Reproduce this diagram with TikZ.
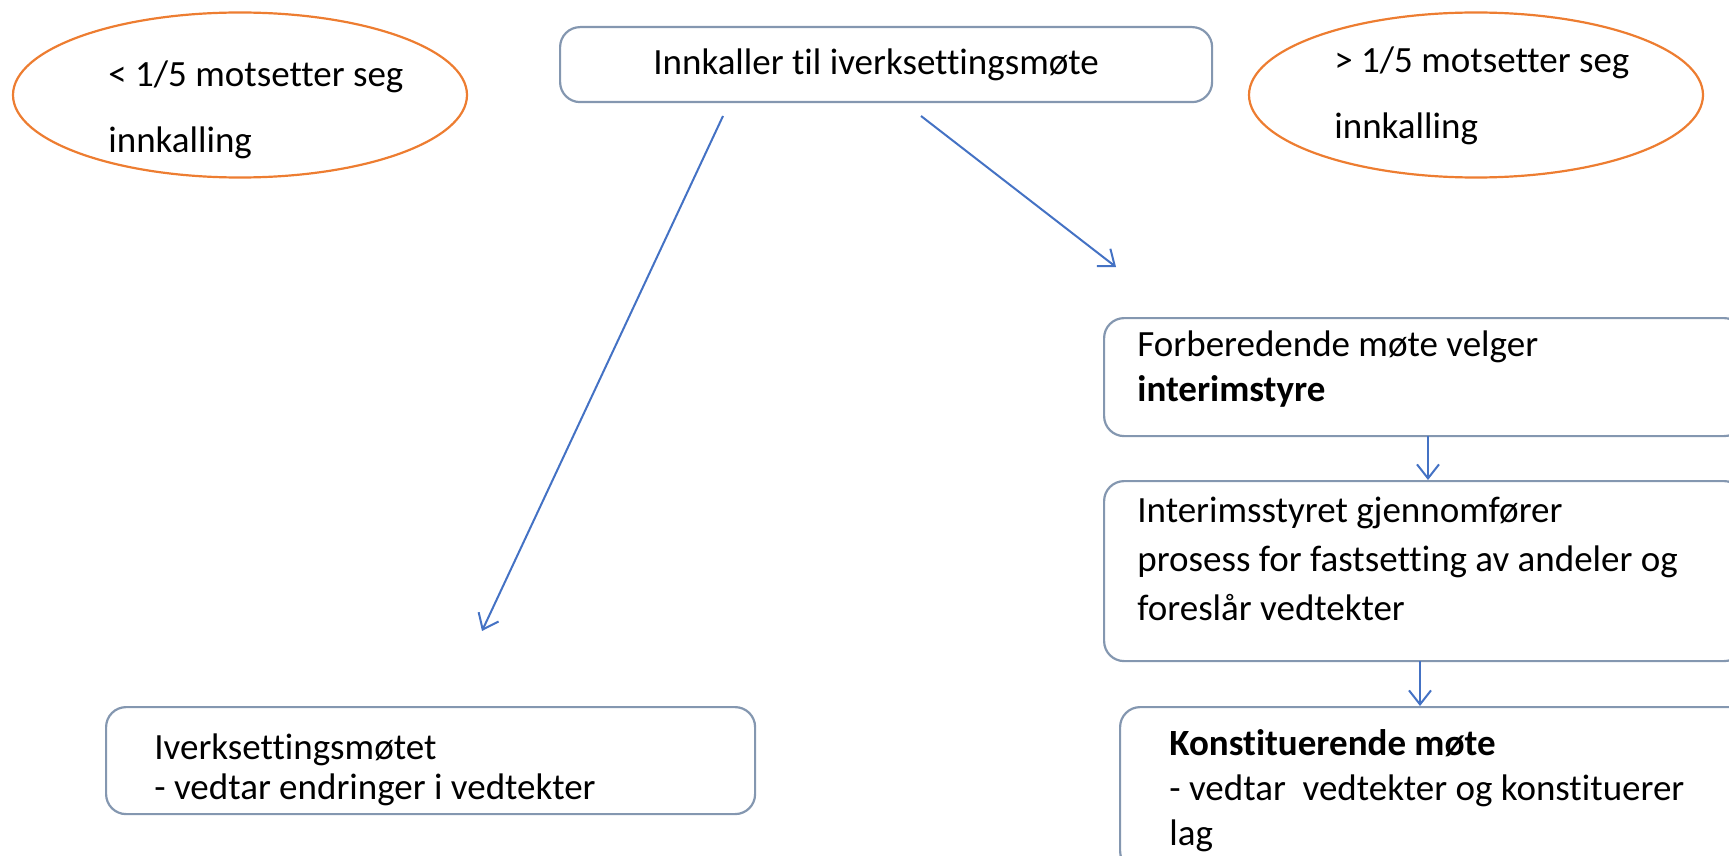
\documentclass[tikz,border=0pt]{standalone}
\usepackage{fontspec}
\setmainfont{Carlito}[Ligatures=NoCommon]
\usepackage{tikz}
\usetikzlibrary{arrows.meta,shapes.geometric}
\definecolor{boxgray}{HTML}{8497B0}
\definecolor{arrblue}{HTML}{4472C4}
\definecolor{ovalorange}{HTML}{ED7D31}
\newcommand{\boxlw}{1.1pt}
\newcommand{\arrlw}{1pt}
\newcommand{\boxfont}[1]{\fontsize{18.5}{#1}\selectfont}

\begin{document}
\begin{tikzpicture}[x=0.5pt, y=-0.5pt]
    %\draw[help lines] (0,0) grid (1729,856);
    \tikzset{stepbox/.style = {draw=boxgray, line width=\boxlw, rounded corners=10pt, anchor=north west, inner sep=0pt}}
    \tikzset{boxtext/.style = {anchor=base west, align=flush left, inner sep=0pt, text width=300pt, font=\boxfont{23}}}
    \tikzset{oval/.style = {ellipse, draw=ovalorange, line width=\boxlw, inner sep=0pt, minimum width=227pt, minimum height=82.5pt}}
    \tikzset{flow/.style = {draw=arrblue, line width=\arrlw, -{Straight Barb[length=7pt, width=11pt, line width=\arrlw]}}}
    \useasboundingbox (0,0) rectangle (1729,856);

    % ovals at the top
    \node[oval] (lowO) at (240, 95) {};
    \node[boxtext, text width=200pt, font=\boxfont{33}] (lowT) at (108, 87) {< 1/5 motsetter seg\\innkalling};
    \node[oval] (highO) at (1476, 95) {};
    \node[boxtext, text width=200pt, font=\boxfont{33}] (highT) at (1334, 73) {> 1/5 motsetter seg\\innkalling};

    % call box
    \node[stepbox, minimum width=326pt, minimum height=37.5pt, font=\boxfont{23}] (call) at (559, 26) {Innkaller til iverksettingsmøte\hspace*{10pt}};
    \coordinate (callL) at (723, 116);
    \coordinate (callR) at (921, 116);
    \coordinate (endL) at (482, 631);
    \coordinate (endR) at (1116, 267);

    % right column
    \node[stepbox, minimum width=320pt, minimum height=59pt] (prep) at (1103, 317) {};
    \node[boxtext, font=\boxfont{22.5}] (prepT) at (1137, 356) {Forberedende møte velger\\\textbf{interimstyre}};
    \node[stepbox, minimum width=320pt, minimum height=90pt] (interim) at (1103, 480) {};
    \node[boxtext, font=\boxfont{24.5}] (interimT) at (1137, 522) {Interimsstyret gjennomfører\\prosess for fastsetting av andeler og\\foreslår vedtekter};
    \node[stepbox, minimum width=320pt, minimum height=82pt] (konst) at (1119, 706) {};
    \node[boxtext, font=\boxfont{22.5}] (konstT) at (1169, 755) {\textbf{Konstituerende møte}\\- vedtar~ vedtekter og konstituerer\\lag};
    \coordinate (prepA) at (1428, 436);
    \coordinate (interimA) at (1420, 661);

    % left column
    \node[stepbox, minimum width=324.5pt, minimum height=53.5pt] (iverk) at (105, 706) {};
    \node[boxtext, font=\boxfont{20}] (iverkT) at (154, 759) {Iverksettingsmøtet\\- vedtar endringer i vedtekter};

    \draw[flow] (callL) -- (endL);
    \draw[flow] (callR) -- (endR);
    \draw[flow] (prepA) -- (prepA |- interim.north);
    \draw[flow] (interimA) -- (interimA |- konst.north);
\end{tikzpicture}
\end{document}
